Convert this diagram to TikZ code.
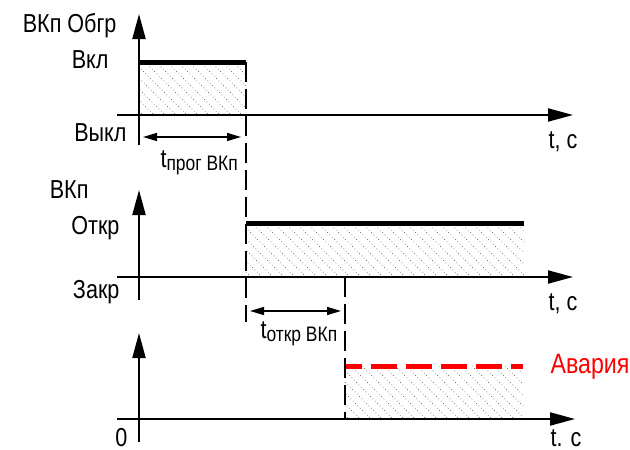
\documentclass[tikz,border=0pt]{standalone}
\usepackage{fontspec}
\setmainfont[FakeStretch=0.83]{Liberation Sans}
\usetikzlibrary{arrows.meta}
\newcommand\lblsub{\fontsize{21}{23}\selectfont}

\begin{document}
\begin{tikzpicture}[x=1pt, y=-1pt, font=\fontsize{26}{29}\selectfont,
  axis/.style={line width=2pt, -{Triangle[length=25pt,width=13pt]}},
  level/.style={line width=5pt},
  marker/.style={line width=2pt, dash pattern=on 20pt off 7pt},
  span/.style={line width=1.5pt, {Triangle[length=14pt,width=8pt]}-{Triangle[length=14pt,width=8pt]}},
  hatch/.style={line width=0.7pt, black!70, dash pattern=on 0.7pt off 2.6pt},
  alarm/.style={line width=5pt, red, dash pattern=on 26pt off 9pt, dash phase=9pt}]
\useasboundingbox (0,0) rectangle (630,450);

% hatched areas under the signals
\foreach \xa/\ya/\xb/\yb in {139/62/246/115, 246/223/524/277, 345/366/523/419}{
  \begin{scope}
    \clip (\xa,\ya) rectangle (\xb,\yb);
    \foreach \k in {0,11,...,340} \draw[hatch] (\xa-60+\k,\ya) -- ++(60,60);
  \end{scope}
}

% time points
\coordinate (prog a) at (143,137);
\coordinate (prog b) at (241,137);
\coordinate (otkr a) at (250,311);
\coordinate (otkr b) at (341,311);

% top: ВКп Обгр
\draw[level] (139,62) -- (246,62);
\draw[axis] (139,145) -- (139,14);
\draw[axis] (117,115) -- (573,115);
\node[anchor=base east] (obgr) at (120,32) {ВКп Обгр};
\node[anchor=base east] (vkl) at (112,68) {Вкл};
\node[anchor=base east] (vykl) at (130,141) {Выкл};
\node[anchor=base west] (t1) at (545,148) {t, c};
\draw[span] (prog a) -- (prog b);
\node[anchor=base west] (tprog) at (157,167) {t\raisebox{-3pt}{\lblsub прог ВКп}};

% middle: ВКп
\draw[level] (246,223) -- (524,223);
\draw[axis] (139,300) -- (139,190);
\draw[axis] (117,277) -- (573,277);
\node[anchor=base east] (vkp) at (92,198) {ВКп};
\node[anchor=base east] (otkr) at (123,234) {Откр};
\node[anchor=base east] (zakr) at (123,298) {Закр};
\node[anchor=base west] (t2) at (545,310) {t, c};
\draw[span] (otkr a) -- (otkr b);
\node[anchor=base west] (totkr) at (257,338) {t\raisebox{-3pt}{\lblsub откр ВКп}};

% bottom: авария
\draw[alarm] (345,366) -- (523,366);
\draw[axis] (139,442) -- (139,333);
\draw[axis] (117,419) -- (575,419);
\node[anchor=base east] (zero) at (131,446) {0};
\node[anchor=base west] (t3) at (547,446) {t. c};
\node[anchor=base west, red, font=\fontsize{28}{31}\selectfont] (avar) at (547,373) {Авария};

% dashed markers
\draw[marker] (246,62) -- (246,322);
\draw[marker] (345,277) -- (345,419);
\end{tikzpicture}
\end{document}
